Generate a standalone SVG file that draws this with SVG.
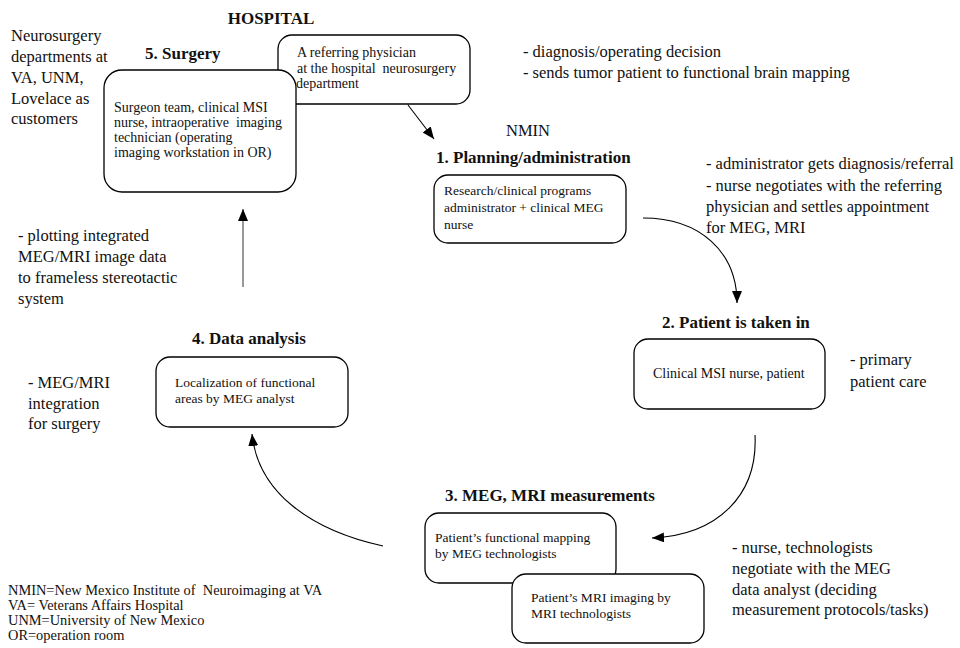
<svg xmlns="http://www.w3.org/2000/svg" width="960" height="648" viewBox="0 0 960 648">
<style>
text{font-family:"Liberation Serif","Times New Roman",serif;fill:#111;}
.h{font-size:17px;font-weight:bold;}
.a{font-size:16.5px;}
.b{font-size:14px;white-space:pre;}
.s{font-size:13.5px;white-space:pre;}
.l{font-size:14.4px;white-space:pre;}
.box{fill:#fff;stroke:#000;stroke-width:1.3;}
.c{fill:none;stroke:#000;stroke-width:1.1;}
</style>
<defs>
<marker id="ah" viewBox="0 0 12 10" refX="12" refY="5" markerWidth="12" markerHeight="10" markerUnits="userSpaceOnUse" orient="auto">
<path d="M0,0 L12,5 L0,10 z" fill="#000"/>
</marker>
</defs>
<rect width="960" height="648" fill="#fff"/>

<g id="titles">
<text class="h" x="271" y="24" text-anchor="middle">HOSPITAL</text>
<text class="a" x="506" y="136">NMIN</text>
</g>

<g id="customers">
<text class="a" x="11" y="41">Neurosurgery</text>
<text class="a" x="11" y="62">departments at</text>
<text class="a" x="11" y="83">VA, UNM,</text>
<text class="a" x="11" y="104">Lovelace as</text>
<text class="a" x="11" y="124">customers</text>
</g>

<g id="physician">
<rect class="box" x="278" y="35" width="192" height="69" rx="14"/>
<text class="b" x="297" y="57">A referring physician</text>
<text class="b" x="297" y="73">at the hospital  neurosurgery</text>
<text class="b" x="296" y="88">department</text>
<text class="a" x="523" y="57">- diagnosis/operating decision</text>
<text class="a" x="523" y="78">- sends tumor patient to functional brain mapping</text>
</g>

<g id="surgery">
<text class="h" x="145" y="59">5. Surgery</text>
<rect class="box" x="104" y="70" width="192" height="122" rx="18"/>
<text class="b" x="114" y="112">Surgeon team, clinical MSI</text>
<text class="b" x="114" y="127">nurse, intraoperative  imaging</text>
<text class="b" x="114" y="142">technician (operating</text>
<text class="b" x="114" y="157">imaging workstation in OR)</text>
<text class="a" x="18" y="241">- plotting integrated</text>
<text class="a" x="18" y="262">MEG/MRI image data</text>
<text class="a" x="18" y="283">to frameless stereotactic</text>
<text class="a" x="18" y="304">system</text>
</g>

<g id="planning">
<text class="h" x="436" y="163">1. Planning/administration</text>
<rect class="box" x="434" y="175" width="192" height="68" rx="14"/>
<text class="s" x="444" y="195">Research/clinical programs</text>
<text class="s" x="444" y="212">administrator + clinical MEG</text>
<text class="s" x="444" y="229">nurse</text>
<text class="a" x="706" y="169">- administrator gets diagnosis/referral</text>
<text class="a" x="706" y="191">- nurse negotiates with the referring</text>
<text class="a" x="706" y="212">physician and settles appointment</text>
<text class="a" x="706" y="233">for MEG, MRI</text>
</g>

<g id="intake">
<text class="h" x="662" y="328">2. Patient is taken in</text>
<rect class="box" x="634" y="339" width="191" height="70" rx="14"/>
<text class="b" x="653" y="378">Clinical MSI nurse, patient</text>
<text class="a" x="850" y="365">- primary</text>
<text class="a" x="850" y="387">patient care</text>
</g>

<g id="measurements">
<text class="h" x="445" y="501">3. MEG, MRI measurements</text>
<rect class="box" x="425" y="513" width="191" height="70" rx="14"/>
<text class="s" x="435" y="542">Patient’s functional mapping</text>
<text class="s" x="435" y="558">by MEG technologists</text>
<rect class="box" x="512" y="574" width="192" height="69" rx="14"/>
<text class="s" x="531" y="602">Patient’s MRI imaging by</text>
<text class="s" x="531" y="618">MRI technologists</text>
<text class="a" x="732" y="553">- nurse, technologists</text>
<text class="a" x="732" y="574">negotiate with the MEG</text>
<text class="a" x="732" y="595">data analyst (deciding</text>
<text class="a" x="732" y="615">measurement protocols/tasks)</text>
</g>

<g id="analysis">
<text class="h" x="192" y="344">4. Data analysis</text>
<rect class="box" x="156" y="357" width="192" height="70" rx="14"/>
<text class="s" x="175" y="387">Localization of functional</text>
<text class="s" x="175" y="403">areas by MEG analyst</text>
<text class="a" x="28" y="388">- MEG/MRI</text>
<text class="a" x="28" y="409">integration</text>
<text class="a" x="28" y="429">for surgery</text>
</g>

<g id="legend">
<text class="l" x="8" y="595">NMIN=New Mexico Institute of  Neuroimaging at VA</text>
<text class="l" x="8" y="610">VA= Veterans Affairs Hospital</text>
<text class="l" x="8" y="625">UNM=University of New Mexico</text>
<text class="l" x="8" y="640">OR=operation room</text>
</g>

<g id="connectors">
<path class="c" d="M408,105 L434,139" marker-end="url(#ah)"/>
<path class="c" d="M643,218 C700,218 737,252 737,303" marker-end="url(#ah)"/>
<path class="c" d="M755,435 C758,495 718,535 652,538" marker-end="url(#ah)"/>
<path class="c" d="M383,546 C310,530 258,492 252,434" marker-end="url(#ah)"/>
<path d="M243,287 L243,209" fill="none" stroke="#808080" stroke-width="1.6" marker-end="url(#ah)"/>
</g>
</svg>
